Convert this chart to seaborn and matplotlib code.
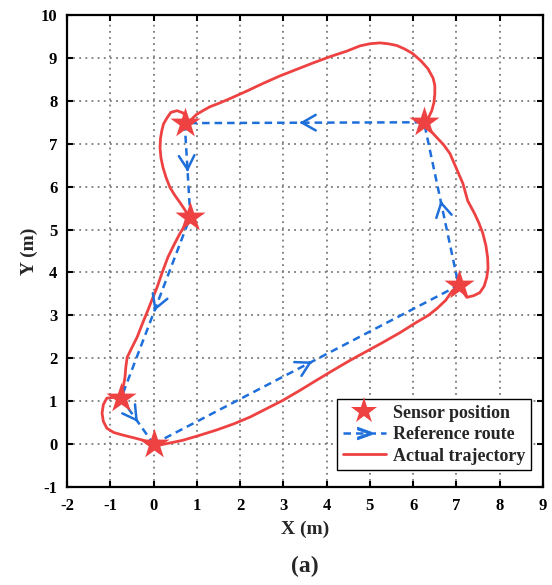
import numpy as np
import pandas as pd
import matplotlib
matplotlib.use("Agg")
import matplotlib.pyplot as plt
from matplotlib.lines import Line2D
import seaborn as sns

# Sensor positions (visit order)
sensor_x = [0.0, 7.05, 6.25, 0.72, 0.85, -0.75]
sensor_y = [0.0, 3.70, 7.50, 7.48, 5.30, 1.07]

# Reference route (closed loop through sensors)
ref_x = [0.0, 7.05, 6.25, 0.72, 0.85, -0.75, 0.0]
ref_y = [0.0, 3.70, 7.50, 7.48, 5.30, 1.07, 0.0]

# Actual trajectory
traj_x = [0.08, 0.15, 0.40, 0.68, 1.05, 1.46, 1.85, 2.23, 2.60, 2.99, 3.38, 3.77, 4.15, 4.54, 4.92, 5.30,
          5.70, 6.08, 6.35, 6.55, 6.75, 6.91, 7.05,
          7.15, 7.24, 7.40, 7.54, 7.64, 7.70, 7.73, 7.72, 7.68, 7.61, 7.52, 7.42, 7.26, 7.15, 7.00, 6.85,
          6.70, 6.55, 6.34, 6.25,
          6.36, 6.43, 6.48, 6.50, 6.50, 6.46, 6.34, 6.18, 5.99, 5.80, 5.62, 5.42, 5.23, 5.00, 4.77, 4.47,
          4.08, 3.68, 3.30, 2.92, 2.54, 2.16, 1.83, 1.53, 1.30, 1.14, 0.99, 0.89, 0.73,
          0.75, 0.68, 0.54, 0.40, 0.31, 0.23, 0.19, 0.16, 0.15, 0.17, 0.22, 0.29, 0.38, 0.49, 0.61, 0.71,
          0.79, 0.85,
          0.73, 0.61, 0.47, 0.33, 0.20, 0.08, -0.03, -0.13, -0.26, -0.38, -0.50, -0.61, -0.64, -0.66,
          -0.70, -0.73,
          -0.92, -1.08, -1.16, -1.19, -1.16, -1.08, -0.92, -0.71, -0.47, -0.24, -0.07, 0.08]
traj_y = [-0.02, -0.02, 0.03, 0.09, 0.20, 0.33, 0.47, 0.63, 0.82, 1.02, 1.25, 1.49, 1.72, 1.95, 2.16, 2.37,
          2.60, 2.84, 3.00, 3.16, 3.35, 3.58, 3.68,
          3.55, 3.42, 3.46, 3.53, 3.68, 3.88, 4.10, 4.35, 4.63, 4.91, 5.15, 5.37, 5.67, 6.07, 6.42, 6.77,
          6.98, 7.14, 7.37, 7.50,
          7.62, 7.77, 7.96, 8.16, 8.36, 8.53, 8.75, 8.93, 9.10, 9.21, 9.29, 9.33, 9.35, 9.33, 9.28, 9.16,
          9.03, 8.88, 8.73, 8.58, 8.41, 8.23, 8.08, 7.95, 7.86, 7.77, 7.68, 7.58, 7.47,
          7.62, 7.72, 7.77, 7.73, 7.60, 7.46, 7.30, 7.12, 6.91, 6.68, 6.44, 6.21, 5.98, 5.80, 5.63, 5.48,
          5.35, 5.30,
          5.10, 4.91, 4.64, 4.35, 4.00, 3.65, 3.38, 3.12, 2.80, 2.49, 2.25, 2.02, 1.80, 1.56,
          1.33, 1.09,
          1.09, 1.07, 0.92, 0.72, 0.53, 0.37, 0.27, 0.21, 0.15, 0.09, 0.03, -0.02]

x_ticks = list(range(-2, 10))
y_ticks = list(range(-1, 11))

RED = "#EE4242"
BLUE = "#1F6FDB"

sns.set_theme(style="white")
plt.rcParams["font.family"] = ["Liberation Serif", "DejaVu Serif"]
plt.rcParams["font.weight"] = "bold"
plt.rcParams["axes.labelweight"] = "bold"

fig = plt.figure(figsize=(5.52, 5.85), dpi=100)
ax = fig.add_axes([67 / 552, 1 - 487 / 585, 476 / 552, 472 / 585])

traj_df = pd.DataFrame({"x": traj_x, "y": traj_y})
ref_df = pd.DataFrame({"x": ref_x, "y": ref_y})
sens_df = pd.DataFrame({"x": sensor_x, "y": sensor_y})

sns.lineplot(data=traj_df, x="x", y="y", sort=False, estimator=None, ax=ax,
             color=RED, linewidth=2.0, zorder=3)
sns.lineplot(data=ref_df, x="x", y="y", sort=False, estimator=None, ax=ax,
             color=BLUE, linewidth=1.8, zorder=4)
ax.lines[-1].set_dashes((3, 2))
for ln in ax.lines:
    ln.set_solid_joinstyle("round")
    ln.set_solid_capstyle("round")

# open arrowheads along each reference segment
for i in range(len(ref_x) - 1):
    x0, y0, x1, y1 = ref_x[i], ref_y[i], ref_x[i + 1], ref_y[i + 1]
    f = 0.52
    tx, ty = x0 + f * (x1 - x0), y0 + f * (y1 - y0)
    d = np.hypot(x1 - x0, y1 - y0)
    ux, uy = (x1 - x0) / d, (y1 - y0) / d
    ax.annotate("", xy=(tx, ty), xytext=(tx - 0.05 * ux, ty - 0.05 * uy),
                arrowprops=dict(arrowstyle="->,head_length=0.7,head_width=0.4",
                                color=BLUE, lw=1.8, shrinkA=0, shrinkB=0,
                                mutation_scale=14), zorder=4)

sns.scatterplot(data=sens_df, x="x", y="y", marker="*", s=520, color=RED,
                linewidth=0, ax=ax, zorder=5)

ax.set_xlim(-2, 9)
ax.set_ylim(-1, 10)
ax.set_xticks(x_ticks)
ax.set_yticks(y_ticks)
ax.set_xticklabels([str(v) for v in x_ticks], fontsize=12, fontweight="bold")
ax.set_yticklabels([str(v) for v in y_ticks], fontsize=12, fontweight="bold")
ax.tick_params(axis="x", pad=8)
ax.tick_params(axis="y", pad=7)
ax.tick_params(direction="in", length=4, width=1.5, top=True, right=True,
               bottom=True, left=True, colors="black")
ax.grid(True, color="#7a7a7a", linewidth=1.3, linestyle=(0, (1, 2.4)))
for s in ax.spines.values():
    s.set_visible(True)
    s.set_color("black")
    s.set_linewidth(1.6)

ax.set_xlabel("X (m)", fontsize=14, fontweight="bold", labelpad=5)
ax.set_ylabel("Y (m)", fontsize=14, fontweight="bold", labelpad=2)
fig.text(0.5 * (67 + 543) / 552, 1 - 566 / 585, "(a)", ha="center", va="center",
         fontsize=17, fontweight="bold")

handles = [
    Line2D([], [], linestyle="none", marker="*", markersize=20, color=RED, markeredgewidth=0),
    Line2D([], [], linestyle=(0, (3, 2)), color=BLUE, linewidth=1.8,
           marker=r"$>$", markersize=10, markeredgewidth=0.6),
    Line2D([], [], color=RED, linewidth=2.0),
]
labels = ["Sensor position", "Reference route", "Actual trajectory"]
leg = ax.legend(handles, labels, loc="lower right",
                bbox_to_anchor=(1 - 12 / 476, 17 / 472), borderaxespad=0,
                prop={"family": "Liberation Serif", "weight": "bold", "size": 13},
                frameon=True, fancybox=False, edgecolor="black", framealpha=1,
                handlelength=2.4, handletextpad=0.4, labelspacing=0.25,
                borderpad=0.3, markerscale=1)
leg.get_frame().set_linewidth(1.0)
leg.set_zorder(10)

fig.savefig("out.png", dpi=100)
